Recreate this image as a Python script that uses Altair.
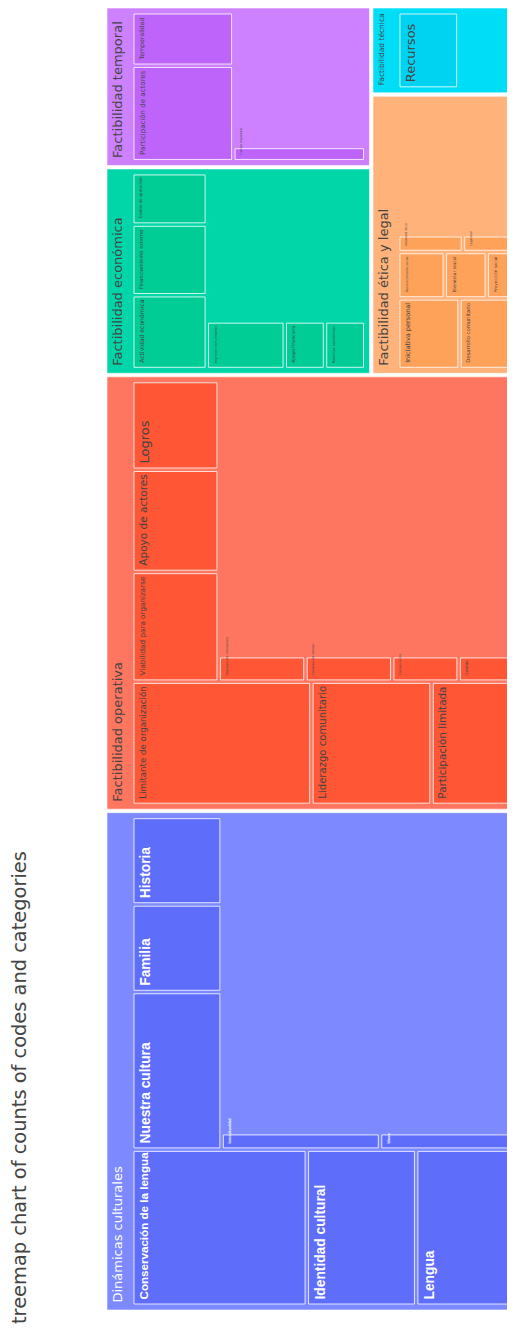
import altair as alt
import pandas as pd

TITLE = "treemap chart of counts of codes and categories"

# ---------------- data ----------------
categories = ["Dinámicas culturales", "Factibilidad operativa", "Factibilidad económica",
              "Factibilidad temporal", "Factibilidad ética y legal", "Factibilidad técnica"]
# counts coded directly on the category (not on a child code)
category_own_counts = [711, 627, 196, 151, 145, 44]

codes_dinamicas = ["Conservación de la lengua", "Identidad cultural", "Lengua", "Nuestra cultura",
                   "Familia", "Historia", "Interculturalidad", "Idioma"]
counts_dinamicas = [209, 131, 118, 108, 60, 60, 20, 17]

codes_operativa = ["Limitante de organización", "Liderazgo comunitario", "Participación limitada",
                   "Viabilidad para organizarse", "Apoyo de actores", "Logros",
                   "Organización comunitaria", "Coordinación interna", "Comunicación", "Gestión"]
counts_operativa = [170, 114, 79, 73, 68, 59, 17, 17, 13, 11]

codes_economica = ["Actividad económica", "Financiamiento externo", "Costos de operación",
                   "Ingresos comunitarios", "Apoyo financiero", "Recursos económicos"]
counts_economica = [46, 44, 32, 31, 16, 16]

codes_temporal = ["Participación de actores", "Temporalidad", "Tiempo disponible"]
counts_temporal = [82, 46, 16]

codes_etica = ["Iniciativa personal", "Desarrollo comunitario", "Reconocimiento social",
               "Bienestar social", "Proyección social", "Identidad ética", "Legalidad"]
counts_etica = [40, 36, 20, 18, 12, 10, 8]

codes_tecnica = ["Recursos"]
counts_tecnica = [47]

code_lists = [codes_dinamicas, codes_operativa, codes_economica, codes_temporal, codes_etica, codes_tecnica]
count_lists = [counts_dinamicas, counts_operativa, counts_economica, counts_temporal, counts_etica, counts_tecnica]

# ---------------- styles ----------------
parent_colors = ["#7C89FF", "#FF7660", "#00D6A8", "#CD81FF", "#FFB27A", "#00DDF6"]
leaf_colors = ["#5F6DFB", "#FF5636", "#00CC96", "#BE64FB", "#FFA259", "#00D3F1"]
label_colors = ["#FFFFFF", "#444444", "#444444", "#444444", "#444444", "#444444"]

PLOT_W, PLOT_H = 400, 1310           # visible plot area (across, along)
ROOT = (8.0, 0.0, 1310.0, 412.0)     # u0, v0, u1, v1 of the root tile
GAP = 3.5
PAD_TOP, PAD_SIDE, PAD_BOTTOM = 27.0, 6.0, 6.0
RATIO = 1.0

DV = {' ': .318, 'a': .613, 'b': .635, 'c': .550, 'd': .635, 'e': .615, 'f': .352, 'g': .635,
      'h': .634, 'i': .278, 'j': .278, 'k': .579, 'l': .278, 'm': .974, 'n': .634, 'o': .612,
      'p': .635, 'q': .635, 'r': .411, 's': .521, 't': .392, 'u': .634, 'v': .592, 'w': .818,
      'x': .592, 'y': .592, 'z': .525, 'á': .613, 'é': .615, 'í': .278, 'ó': .612, 'ú': .634,
      'ñ': .634, 'A': .684, 'B': .686, 'C': .698, 'D': .770, 'E': .632, 'F': .575, 'G': .775,
      'H': .752, 'I': .295, 'L': .557, 'N': .748, 'O': .787, 'P': .603, 'R': .695, 'S': .635,
      'T': .611, 'V': .684}


def em_width(s):
    return sum(DV.get(ch, 0.6) for ch in s)


def squarify(values, total, x0, y0, x1, y1):
    """d3 squarify (ratio 1) laying values out in a box sized for `total`."""
    rects = [None] * len(values)
    n = len(values)
    i0 = i1 = 0
    value = float(total)
    while i0 < n:
        dx, dy = x1 - x0, y1 - y0
        sum_v = values[i1]
        i1 += 1
        min_v = max_v = sum_v
        alpha = max(dy / dx, dx / dy) / (value * RATIO)
        beta = sum_v * sum_v * alpha
        min_ratio = max(max_v / beta, beta / min_v)
        while i1 < n:
            nv = values[i1]
            sum_v += nv
            min_v = min(min_v, nv)
            max_v = max(max_v, nv)
            beta = sum_v * sum_v * alpha
            new_ratio = max(max_v / beta, beta / min_v)
            if new_ratio > min_ratio:
                sum_v -= nv
                break
            min_ratio = new_ratio
            i1 += 1
        row = range(i0, i1)
        if dx < dy:
            yb = y0 + dy * sum_v / value
            xx = x0
            for i in row:
                w = (x1 - x0) * values[i] / sum_v
                rects[i] = (xx, y0, xx + w, yb)
                xx += w
            y0 = yb
        else:
            xb = x0 + dx * sum_v / value
            yy = y0
            for i in row:
                h = (y1 - y0) * values[i] / sum_v
                rects[i] = (x0, yy, xb, yy + h)
                yy += h
            x0 = xb
        value -= sum_v
        i0 = i1
    return rects


def shrink(r, p):
    return (r[0] + p, r[1] + p, r[2] - p, r[3] - p)


p = GAP / 2
totals = [own + sum(c) for own, c in zip(category_own_counts, count_lists)]
order = sorted(range(len(categories)), key=lambda i: -totals[i])
u0, v0, u1, v1 = ROOT
top_tiles = squarify([totals[i] for i in order], sum(totals), u0 - p, v0 - p, u1 + p, v1 + p)

parent_rows, leaf_rows, head_rows, leaf_lab = [], [], [], []
for k, ci in enumerate(order):
    pr = shrink(top_tiles[k], p)
    parent_rows.append(dict(u0=pr[0], v0=pr[1], u1=pr[2], v1=pr[3], fill=parent_colors[ci]))
    name = categories[ci]
    fs = min(13.0, (pr[2] - pr[0] - 12) / em_width(name))
    head_rows.append(dict(tx=pr[1] + 5, ty=pr[0] + 7.5, label=name, fs=fs, tc=label_colors[ci]))
    cidx = sorted(range(len(count_lists[ci])), key=lambda j: -count_lists[ci][j])
    vals = [count_lists[ci][j] for j in cidx]
    region = (pr[0] + PAD_SIDE - p, pr[1] + PAD_TOP - p, pr[2] - PAD_SIDE + p, pr[3] - PAD_BOTTOM + p)
    tiles = squarify(vals, totals[ci], *region)
    for j, t in zip(cidx, tiles):
        r = shrink(t, p)
        leaf_rows.append(dict(u0=r[0], v0=r[1], u1=r[2], v1=r[3], fill=leaf_colors[ci]))
        lab = code_lists[ci][j]
        ulen, vlen = r[2] - r[0], r[3] - r[1]
        f = max(3.0, min(13.0, (ulen - 7) / em_width(lab), (vlen - 6) / 1.6))
        bold = ci == 0
        leaf_lab.append(dict(tx=r[1] + 5, ty=r[0] + 4.5, label=lab,
                             fs=f * 1.06 if bold else f, tc=label_colors[ci], bold=bold))

parents = pd.DataFrame(parent_rows)
leaves = pd.DataFrame(leaf_rows)
heads = pd.DataFrame(head_rows)
labs = pd.DataFrame(leaf_lab)

xs = alt.Scale(domain=[0, PLOT_W], nice=False, zero=False)
ys = alt.Scale(domain=[0, PLOT_H], nice=False, zero=False)


def rect_layer(df, opacity):
    return alt.Chart(df).mark_rect(stroke="white", strokeWidth=1, strokeOpacity=opacity).encode(
        x=alt.X("v0:Q", scale=xs, axis=None), x2="v1:Q",
        y=alt.Y("u0:Q", scale=ys, axis=None), y2="u1:Q",
        color=alt.Color("fill:N", scale=None))


def text_layer(df, font, weight):
    return alt.Chart(df).mark_text(angle=270, align="left", baseline="top",
                                   font=font, fontWeight=weight).encode(
        x=alt.X("tx:Q", scale=xs, axis=None),
        y=alt.Y("ty:Q", scale=ys, axis=None),
        text="label:N",
        size=alt.Size("fs:Q", scale=None),
        color=alt.Color("tc:N", scale=None))


chart = alt.layer(
    rect_layer(parents, 0.6),
    rect_layer(leaves, 0.8),
    text_layer(heads, "DejaVu Sans", "normal"),
    text_layer(labs[~labs.bold], "DejaVu Sans", "normal"),
    text_layer(labs[labs.bold], "Liberation Sans", "bold"),
).properties(
    width=PLOT_W, height=PLOT_H,
    background="white",
    title=alt.TitleParams(TITLE, orient="left", anchor="start", font="DejaVu Sans",
                          fontSize=19.4, fontWeight="normal", color="#444444",
                          offset=76, dx=-6),
    autosize=alt.AutoSizeParams(type="none"),
    padding={"left": 99, "top": 0, "right": 0, "bottom": 8},
).configure_view(stroke="transparent", strokeWidth=0)

chart.save("out.html", embed_options={"renderer": "svg", "actions": False})
